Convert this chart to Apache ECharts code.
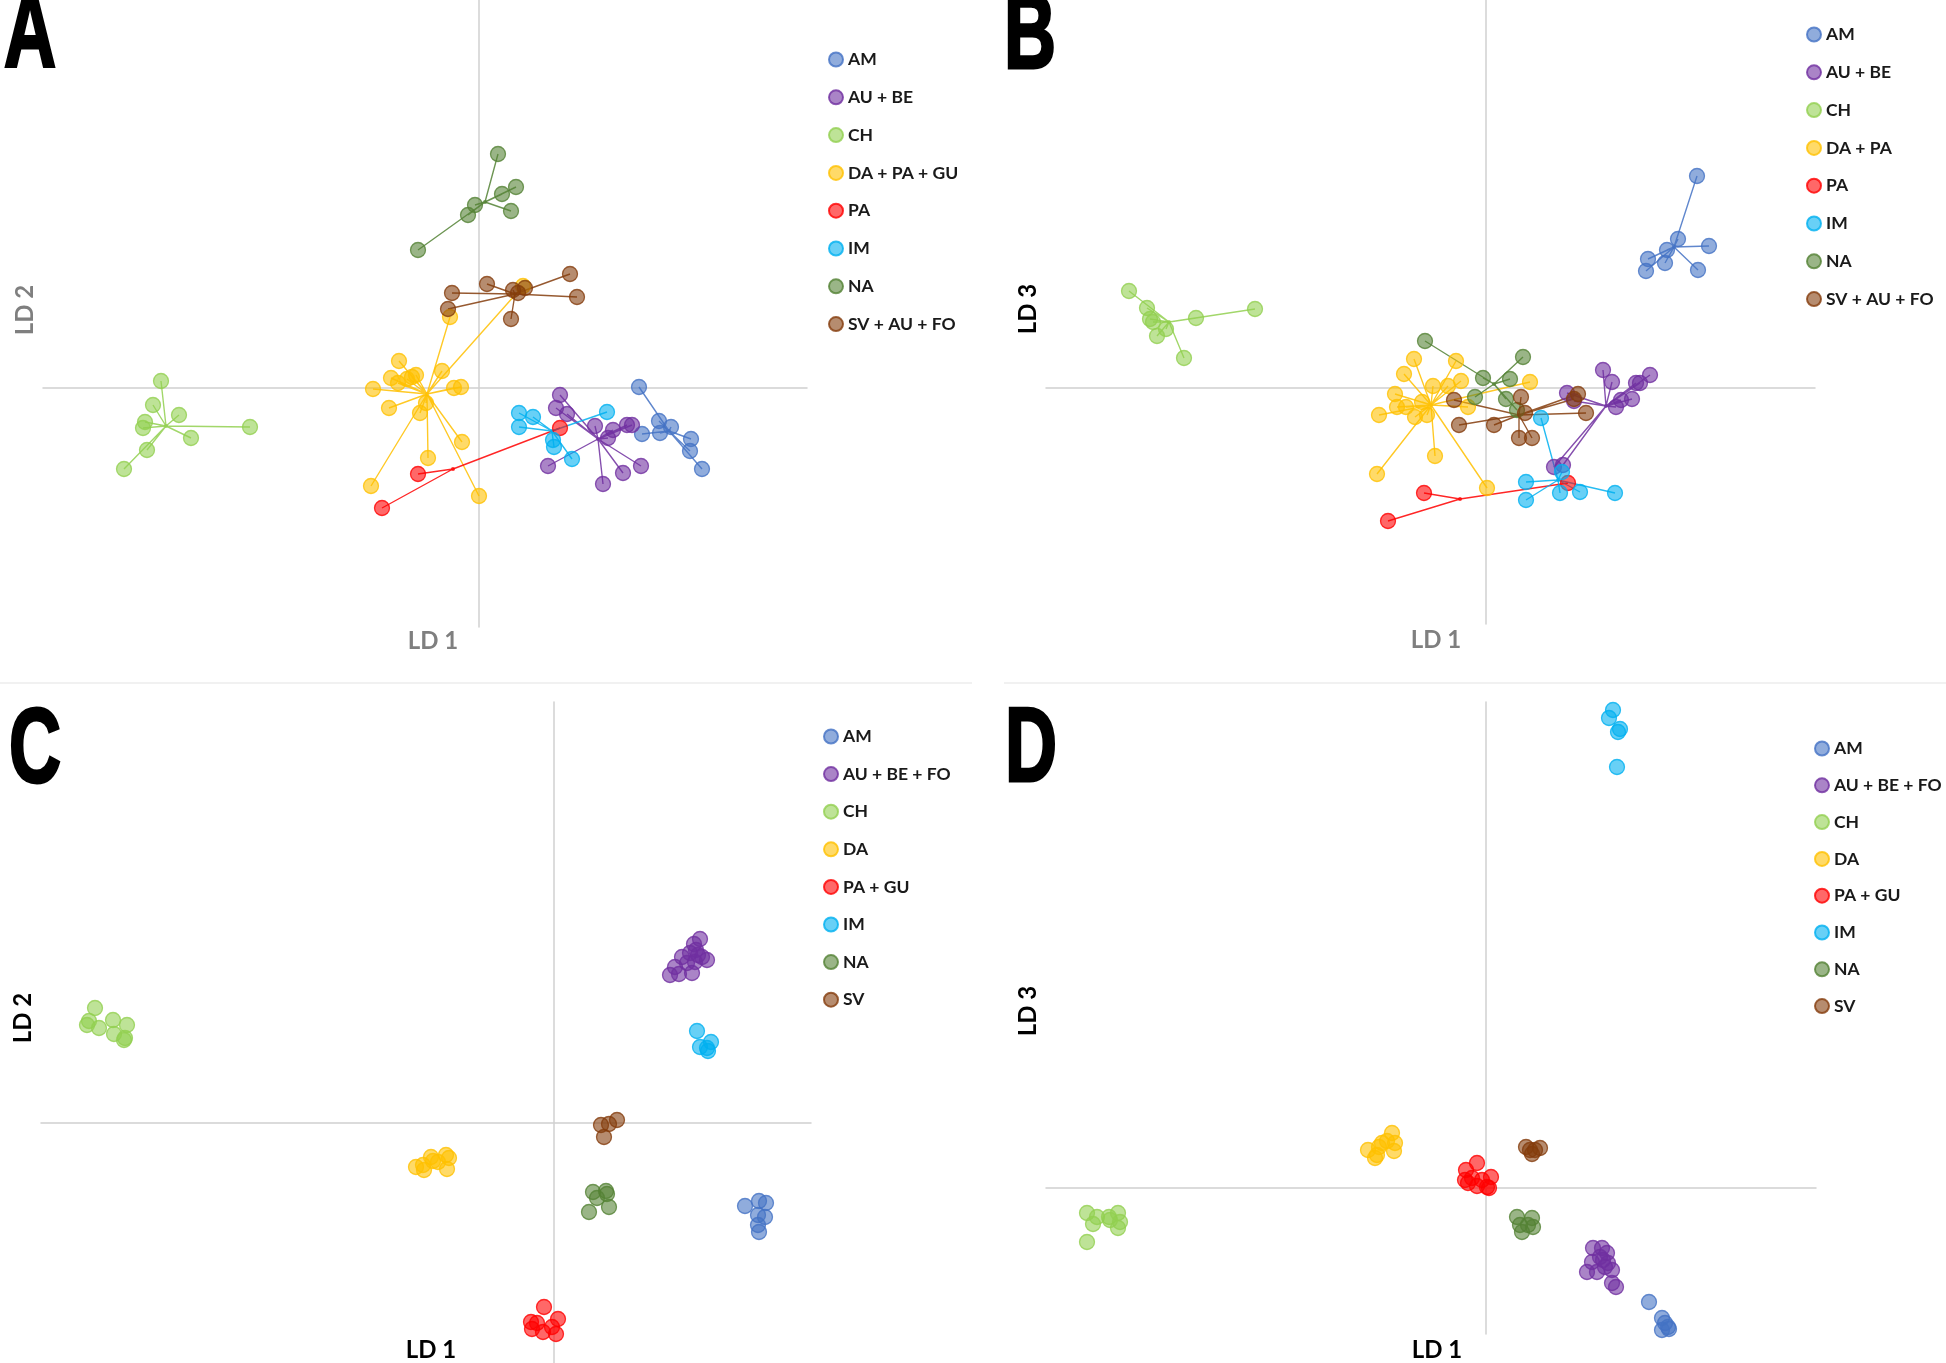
<!DOCTYPE html>
<html><head><meta charset="utf-8">
<script src="https://cdn.jsdelivr.net/npm/echarts@6/dist/echarts.min.js"></script>
<style>html,body{margin:0;padding:0;background:#fff}#c{width:1946px;height:1363px}</style>
</head><body><div id="c"></div>
<script>
// ---------- Panel A (LD1 vs LD2, spokes to group centroid) ----------
const A_AM = [[16.0,0.1],[18.0,-3.3],[19.2,-3.9],[16.3,-4.6],[18.1,-4.5],[21.2,-5.1],[21.1,-6.3],[22.3,-8.1]];
const A_AM_HUB = [19.0,-4.3];
const A_AUBE = [[8.1,-0.7],[7.7,-2.0],[8.8,-2.6],[11.6,-3.8],[13.4,-4.2],[12.9,-5.0],[14.8,-3.7],[15.3,-3.7],[6.9,-7.8],[14.4,-8.5],[16.2,-7.8],[12.4,-9.6]];
const A_AUBE_HUB = [11.9,-5.1];
const A_CH = [[-31.8,0.7],[-32.6,-1.7],[-30.0,-2.7],[-33.4,-3.4],[-33.6,-4.0],[-28.8,-5.0],[-22.9,-3.9],[-33.2,-6.2],[-35.5,-8.1]];
const A_CH_HUB = [-31.3,-3.8];
const A_DAPAGU = [[-2.9,7.1],[-8.0,2.7],[-8.8,1.0],[-8.1,0.5],[-7.2,0.9],[-6.7,1.1],[-6.3,1.3],[-3.7,1.7],[-10.6,-0.1],[-2.5,0.0],[-1.8,0.1],[-9.0,-2.0],[-5.3,-1.5],[-5.9,-2.5],[-1.7,-5.4],[-5.1,-7.0],[-10.8,-9.8],[0.0,-10.8],[4.4,10.2]];
const A_DAPAGU_HUB = [-5.2,-0.6];
const A_PA = [[-6.1,-8.6],[-9.7,-12.0],[8.1,-4.0]];
const A_PA_HUB = [-2.6,-8.1];
const A_IM = [[4.0,-2.5],[5.4,-2.9],[4.0,-3.9],[12.8,-2.4],[7.4,-5.2],[7.5,-5.9],[9.3,-7.1]];
const A_IM_HUB = [7.3,-4.3];
const A_NA = [[1.9,23.4],[3.7,20.1],[2.3,19.4],[-0.4,18.3],[-1.1,17.3],[3.2,17.7],[-6.1,13.8]];
const A_NA_HUB = [0.6,18.6];
const A_SVAUFO = [[9.1,11.4],[0.8,10.4],[-2.7,9.5],[-3.1,7.9],[3.2,6.9],[9.8,9.1],[3.4,9.8],[3.9,9.5],[4.6,10.0]];
const A_SVAUFO_HUB = [3.6,9.4];

// ---------- Panel B (LD1 vs LD3, spokes) ----------
const B_AM = [[21.1,21.2],[19.2,14.9],[22.3,14.2],[18.1,13.8],[16.2,12.9],[17.9,12.5],[16.0,11.7],[21.2,11.8]];
const B_AM_HUB = [18.8,14.1];
const B_AUBE = [[11.7,1.8],[12.6,0.6],[8.1,-0.5],[8.8,-1.3],[15.0,0.5],[15.4,0.5],[16.4,1.3],[13.5,-1.2],[14.6,-1.1],[13.0,-1.9],[6.8,-7.9],[7.7,-7.7]];
const B_AUBE_HUB = [12.0,-1.8];
const B_CH = [[-35.7,9.7],[-33.9,8.0],[-33.6,6.9],[-33.3,6.6],[-29.0,7.0],[-23.1,7.9],[-32.0,5.9],[-32.9,5.2],[-30.2,3.0]];
const B_CH_HUB = [-31.7,6.6];
const B_DAPA = [[-7.2,2.9],[-3.0,2.7],[-8.2,1.4],[-2.5,0.7],[-5.3,0.2],[-3.8,0.2],[4.4,0.6],[-9.1,-0.6],[-6.4,-1.4],[-8.9,-1.9],[-8.0,-1.9],[-10.7,-2.7],[-7.1,-2.9],[-5.9,-2.7],[-1.8,-1.9],[-5.1,-6.8],[-10.9,-8.6],[0.1,-10.0]];
const B_DAPA_HUB = [-5.5,-1.7];
const B_PA = [[-6.2,-10.5],[-9.8,-13.3],[8.2,-9.5]];
const B_PA_HUB = [-2.6,-11.1];
const B_IM = [[5.5,-3.0],[7.6,-8.4],[4.0,-9.4],[7.4,-10.5],[9.4,-10.4],[12.9,-10.5],[4.0,-11.2]];
const B_IM_HUB = [7.2,-9.2];
const B_NA = [[-6.1,4.7],[3.7,3.1],[-0.3,1.0],[2.4,0.9],[-1.1,-0.9],[2.0,-1.1],[3.1,-2.2]];
const B_NA_HUB = [0.8,0.4];
const B_SVAUFO = [[-3.2,-1.2],[3.5,-0.9],[9.2,-0.6],[8.8,-1.1],[10.0,-2.5],[-2.7,-3.7],[0.8,-3.7],[3.3,-5.0],[4.6,-5.0],[3.9,-2.5]];
const B_SVAUFO_HUB = [3.3,-2.7];

// ---------- Panel C (LD1 vs LD2) ----------
const C_AM = [[19.1,-8.3],[20.5,-7.8],[21.2,-8.0],[20.4,-9.2],[21.1,-9.4],[20.4,-10.2],[20.5,-10.9]];
const C_AUBEFO = [[14.6,18.4],[14.0,17.9],[14.2,17.3],[12.8,16.6],[13.6,17.0],[14.4,16.8],[15.3,16.3],[12.1,15.6],[11.6,14.8],[12.5,14.9],[13.8,15.0],[13.3,16.0],[14.1,16.1],[14.8,16.6]];
const C_CH = [[-45.9,11.5],[-46.5,10.2],[-46.7,9.8],[-45.5,9.5],[-44.1,10.3],[-42.7,9.8],[-44.0,8.9],[-42.9,8.5],[-43.0,8.3]];
const C_DA = [[-13.8,-4.4],[-13.0,-4.7],[-12.3,-3.4],[-12.1,-3.8],[-10.8,-3.2],[-10.5,-3.5],[-10.7,-4.6],[-11.6,-3.9],[-13.1,-4.2]];
const C_PAGU = [[-1.0,-18.4],[-2.3,-19.9],[-1.7,-20.0],[0.4,-19.6],[-0.2,-20.4],[-2.2,-20.6],[-1.1,-20.9],[0.2,-21.1]];
const C_IM = [[14.3,9.2],[15.7,8.1],[14.6,7.6],[15.3,7.5],[15.4,7.2]];
const C_NA = [[3.9,-6.9],[5.2,-6.8],[5.3,-7.1],[4.3,-7.5],[5.5,-8.4],[3.5,-8.9]];
const C_SV = [[4.7,-0.2],[5.5,-0.1],[6.3,0.3],[5.0,-1.4]];

// ---------- Panel D (LD1 vs LD3) ----------
const D_AM = [[16.3,-11.4],[17.6,-13.0],[18.2,-13.9],[17.6,-14.2],[18.3,-14.1],[17.9,-13.5]];
const D_AUBEFO = [[10.7,-6.0],[11.6,-6.0],[12.1,-6.5],[11.7,-7.2],[12.2,-7.5],[10.6,-7.4],[10.1,-8.4],[11.1,-8.4],[12.6,-8.2],[12.6,-9.5],[13.0,-9.9],[11.4,-6.9],[11.9,-7.9]];
const D_CH = [[-39.9,-2.5],[-38.9,-2.9],[-39.3,-3.6],[-37.7,-2.9],[-36.8,-2.5],[-36.6,-3.4],[-36.8,-4.0],[-39.9,-5.4],[-37.6,-3.2]];
const D_DA = [[-9.4,5.5],[-11.8,3.8],[-11.1,3.0],[-10.4,4.5],[-9.1,4.5],[-9.2,3.7],[-10.7,4.1],[-9.9,4.7],[-10.9,3.3]];
const D_PAGU = [[-0.9,2.5],[-2.0,1.8],[-2.1,0.8],[-1.4,1.0],[-0.9,0.2],[0.1,0.1],[0.5,1.1],[0.3,0.0],[-0.4,0.8],[-1.8,0.5]];
const D_IM = [[12.7,47.8],[12.3,47.0],[13.4,45.9],[13.2,45.6],[13.1,42.1]];
const D_NA = [[3.1,-2.9],[4.6,-3.0],[3.4,-3.7],[3.6,-4.4],[4.7,-3.9],[4.2,-3.7]];
const D_SV = [[4.0,4.1],[5.4,4.0],[4.6,3.4],[4.4,3.8],[4.9,3.8]];

// ---------- group labels ----------
const A_NAMES = ['AM','AU + BE','CH','DA + PA + GU','PA','IM','NA','SV + AU + FO'];
const B_NAMES = ['AM','AU + BE','CH','DA + PA','PA','IM','NA','SV + AU + FO'];
const C_NAMES = ['AM','AU + BE + FO','CH','DA','PA + GU','IM','NA','SV'];
const D_NAMES = ['AM','AU + BE + FO','CH','DA','PA + GU','IM','NA','SV'];

// colour order matches the label order in every panel
const PALETTE = ['#4472C4','#7030A0','#92D050','#FFC000','#FF0000','#00B0F0','#548235','#843C0C'];

function rgba(hex, a) {
  const n = parseInt(hex.slice(1), 16);
  return 'rgba(' + (n >> 16) + ',' + ((n >> 8) & 255) + ',' + (n & 255) + ',' + a + ')';
}

// pick a narrow font if one is installed
function hasFont(f) {
  const ctx = document.createElement('canvas').getContext('2d');
  const s = 'AU + BE + FO mmmWWiil';
  ctx.font = 'bold 40px monospace';
  const w1 = ctx.measureText(s).width;
  ctx.font = 'bold 40px "' + f + '", monospace';
  return Math.abs(ctx.measureText(s).width - w1) > 0.5;
}
const NARROW = hasFont('Liberation Sans Narrow');
const LEG_FONT = NARROW ? '"Liberation Sans Narrow"' : 'Lato';
const LEG_SIZE = NARROW ? 20 : 17.5;

const panels = [
  { names: A_NAMES, pts: [A_AM,A_AUBE,A_CH,A_DAPAGU,A_PA,A_IM,A_NA,A_SVAUFO],
    hubs: [A_AM_HUB,A_AUBE_HUB,A_CH_HUB,A_DAPAGU_HUB,A_PA_HUB,A_IM_HUB,A_NA_HUB,A_SVAUFO_HUB],
    grid: {left:43, top:0, width:764, height:627}, x:[-43.6,32.8], y:[-23.9,38.8],
    legend: {left:828, top:50, gap:18.8} },
  { names: B_NAMES, pts: [B_AM,B_AUBE,B_CH,B_DAPA,B_PA,B_IM,B_NA,B_SVAUFO],
    hubs: [B_AM_HUB,B_AUBE_HUB,B_CH_HUB,B_DAPA_HUB,B_PA_HUB,B_IM_HUB,B_NA_HUB,B_SVAUFO_HUB],
    grid: {left:1046, top:0, width:769, height:624}, x:[-44.0,32.9], y:[-23.6,38.8],
    legend: {left:1806, top:25, gap:18.8} },
  { names: C_NAMES, pts: [C_AM,C_AUBEFO,C_CH,C_DA,C_PAGU,C_IM,C_NA,C_SV], hubs: null,
    grid: {left:41, top:702, width:770, height:661}, x:[-51.3,25.7], y:[-24.0,42.1],
    legend: {left:823, top:727, gap:18.6} },
  { names: D_NAMES, pts: [D_AM,D_AUBEFO,D_CH,D_DA,D_PAGU,D_IM,D_NA,D_SV], hubs: null,
    grid: {left:1046, top:702, width:770, height:632}, x:[-44.0,33.0], y:[-14.6,48.6],
    legend: {left:1814, top:739, gap:17.8} }
];

const grids = [], xAxes = [], yAxes = [], legends = [], series = [];
const axisLine = {show:true, onZero:true, lineStyle:{color:'#d0d0d0', width:1.5}};
panels.forEach((p, i) => {
  grids.push(Object.assign({containLabel:false}, p.grid));
  xAxes.push({gridIndex:i, type:'value', min:p.x[0], max:p.x[1], axisLine:axisLine,
    axisTick:{show:false}, axisLabel:{show:false}, splitLine:{show:false}});
  yAxes.push({gridIndex:i, type:'value', min:p.y[0], max:p.y[1], axisLine:axisLine,
    axisTick:{show:false}, axisLabel:{show:false}, splitLine:{show:false}});
  legends.push({data:p.names, orient:'vertical', left:p.legend.left, top:p.legend.top,
    itemGap:p.legend.gap, itemWidth:14, itemHeight:14, icon:'circle', padding:0,
    selectedMode:false,
    textStyle:{fontFamily:LEG_FONT, fontWeight:'bold', fontSize:LEG_SIZE, lineHeight:19, color:'#1a1a1a', padding:[0,0,0,0]}});
  p.names.forEach((nm, g) => {
    const col = PALETTE[g];
    if (p.hubs) {
      const hub = p.hubs[g];
      const spokes = [];
      p.pts[g].forEach(pt => { spokes.push(hub, pt); });
      spokes.push(hub);
      series.push({type:'line', name:'spokes_' + i + '_' + g, xAxisIndex:i, yAxisIndex:i,
        data:spokes, symbol:'none', silent:true, z:1,
        lineStyle:{color:rgba(col,0.85), width:1.4}});
      series.push({type:'scatter', name:'hub_' + i + '_' + g, xAxisIndex:i, yAxisIndex:i,
        data:[hub], symbolSize:4, silent:true, z:1, itemStyle:{color:col}});
    }
    series.push({type:'scatter', name:nm, xAxisIndex:i, yAxisIndex:i, data:p.pts[g],
      symbol:'circle', symbolSize:15, z:2,
      itemStyle:{color:rgba(col,0.74), borderColor:col, borderWidth:1.3}});
  });
});

function bigLetter(t, x, y) {
  return {type:'text', x:x, y:y, scaleX:0.68, z:10,
    style:{text:t, fill:'#000', stroke:'#000', lineWidth:3, font:'bold 106px "Liberation Sans", Arial, sans-serif',
      align:'left', verticalAlign:'middle'}};
}
function axisName(t, x, y, rot, col) {
  return {type:'text', x:x, y:y, rotation:rot ? Math.PI/2 : 0, z:10,
    style:{text:t, fill:col, font:'bold 24px Lato, sans-serif', align:'center', verticalAlign:'middle'}};
}
const GRAY = '#7f7f7f', BLACK = '#000000';
const graphic = [
  {type:'line', shape:{x1:0, y1:683, x2:972, y2:683}, style:{stroke:'#ececec', lineWidth:1.5}},
  {type:'line', shape:{x1:1004, y1:683, x2:1946, y2:683}, style:{stroke:'#ececec', lineWidth:1.5}},
  bigLetter('A', 4, 38), bigLetter('B', 1004, 39), bigLetter('C', 9, 753), bigLetter('D', 1005, 752),
  axisName('LD 2', 25, 310, true, GRAY), axisName('LD 1', 433, 641, false, GRAY),
  axisName('LD 3', 1028, 309, true, BLACK), axisName('LD 1', 1436, 640, false, GRAY),
  axisName('LD 2', 23, 1018, true, BLACK), axisName('LD 1', 431, 1350, false, BLACK),
  axisName('LD 3', 1028, 1011, true, BLACK), axisName('LD 1', 1437, 1350, false, BLACK)
];

const chart = echarts.init(document.getElementById('c'), null, {renderer:'canvas'});
chart.setOption({
  animation:false, backgroundColor:'#ffffff',
  grid:grids, xAxis:xAxes, yAxis:yAxes, legend:legends, series:series, graphic:graphic
});
</script></body></html>
